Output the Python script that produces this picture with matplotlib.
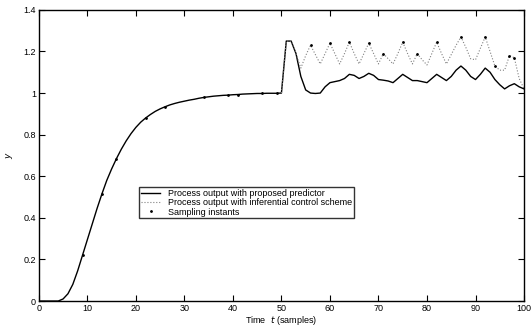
import matplotlib

matplotlib.use("Agg")
import matplotlib.pyplot as plt

plt.rcParams["font.family"] = ["Liberation Sans", "DejaVu Sans"]

# process output with proposed predictor (solid), t = 0..100
t_pred = list(range(0, 101))
y_pred = [
    0.0, 0.0, 0.0, 0.0, 0.0, 0.01, 0.035, 0.08, 0.145, 0.22,
    0.295, 0.37, 0.445, 0.515, 0.58, 0.635, 0.685, 0.73, 0.77, 0.805,
    0.835, 0.86, 0.88, 0.897, 0.912, 0.924, 0.934, 0.943, 0.95, 0.956,
    0.961, 0.966, 0.97, 0.975, 0.979, 0.982, 0.985, 0.987, 0.989, 0.99,
    0.992, 0.993, 0.995, 0.996, 0.997, 0.998, 0.998, 0.999, 0.999, 0.999,
    1.0, 1.25, 1.25, 1.19, 1.08, 1.015, 1.0, 0.998, 1.0, 1.03,
    1.05, 1.055, 1.06, 1.07, 1.09, 1.085, 1.07, 1.08, 1.095, 1.085,
    1.065, 1.062, 1.058, 1.05, 1.07, 1.09, 1.075, 1.06, 1.06, 1.055,
    1.05, 1.07, 1.09, 1.075, 1.06, 1.08, 1.11, 1.13, 1.11, 1.08,
    1.065, 1.09, 1.12, 1.10, 1.065, 1.04, 1.02, 1.035, 1.045, 1.03,
    1.02,
]

# process output with inferential control scheme (dotted), t = 50..100
t_inf = list(range(50, 101))
y_inf = [
    1.0, 1.25, 1.25, 1.19, 1.12, 1.18, 1.23, 1.185, 1.14, 1.19,
    1.24, 1.19, 1.14, 1.19, 1.245, 1.19, 1.14, 1.19, 1.24, 1.19,
    1.14, 1.19, 1.165, 1.14, 1.19, 1.245, 1.19, 1.14, 1.19, 1.16,
    1.135, 1.19, 1.245, 1.19, 1.14, 1.185, 1.23, 1.27, 1.22, 1.165,
    1.16, 1.215, 1.27, 1.20, 1.13, 1.11, 1.11, 1.18, 1.17, 1.07,
    1.02,
]

# sampling instants
t_samp = [9, 13, 16, 22, 26, 34, 39, 41, 46, 49,
          56, 60, 64, 68, 71, 75, 78, 82, 87, 92, 94, 97, 98]
y_samp = [0.22, 0.515, 0.685, 0.88, 0.934, 0.979, 0.99, 0.993, 0.998, 0.999,
          1.23, 1.24, 1.245, 1.24, 1.19, 1.245, 1.19, 1.245, 1.27, 1.27, 1.13, 1.18, 1.17]

fig = plt.figure(figsize=(5.32, 3.29), dpi=100)
ax = fig.add_axes([0.073, 0.085, 0.912, 0.885])

ax.plot(t_pred, y_pred, color="black", linewidth=1.0,
        label="Process output with proposed predictor")
ax.plot(t_inf, y_inf, color="#808080", linestyle=":", linewidth=0.8,
        label="Process output with inferential control scheme")
ax.plot(t_samp, y_samp, linestyle="none", marker=".", color="black",
        markersize=2, label="Sampling instants")

ax.set_xlim(0, 100)
ax.set_ylim(0, 1.4)
ax.set_xticks(range(0, 101, 10))
ax.set_yticks([0, 0.2, 0.4, 0.6, 0.8, 1.0, 1.2, 1.4])
ax.set_yticklabels(["0", "0.2", "0.4", "0.6", "0.8", "1", "1.2", "1.4"])
ax.tick_params(direction="in", top=True, right=True, length=4, width=0.8,
               labelsize=6.5, pad=2)
for s in ax.spines.values():
    s.set_linewidth(1.0)

ax.set_xlabel(r"Time  $t$ (samples)", fontsize=6.5, labelpad=1)
ax.set_ylabel(r"$y$", fontsize=6.5, labelpad=6)

leg = ax.legend(loc="upper left", bbox_to_anchor=(0.206, 0.392),
                borderaxespad=0, fontsize=6.5, frameon=True, fancybox=False,
                handlelength=2.2, handletextpad=0.8, borderpad=0.2,
                labelspacing=0.05, markerscale=1.0)
leg.get_frame().set_edgecolor("black")
leg.get_frame().set_linewidth(1.0)

fig.savefig("out.png", dpi=100)
plt.close(fig)
